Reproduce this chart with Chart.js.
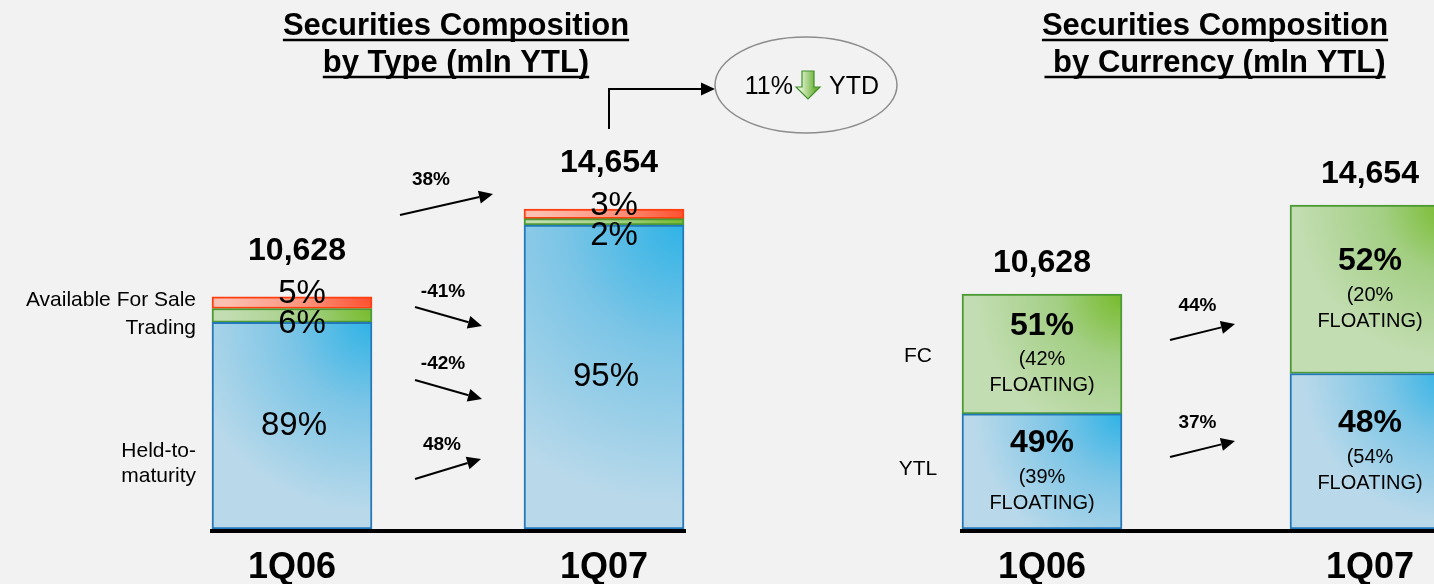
<!DOCTYPE html>
<html>
<head>
<meta charset="utf-8">
<script src="https://cdn.jsdelivr.net/npm/chart.js@4.4.1/dist/chart.umd.min.js"></script>
<style>
html,body{margin:0;padding:0;background:#f2f2f2;overflow:hidden;width:1434px;height:584px}
canvas{position:absolute;top:0}
#typeChart{left:0}
#curChart{left:860px}
</style>
</head>
<body>
<canvas id="typeChart" width="960" height="584"></canvas>
<canvas id="curChart" width="674" height="584"></canvas>
<script>
const periods = ["1Q06", "1Q07"]
const totals = [10628, 14654]

// composition by type, % of total
const heldToMaturity = [89, 95]
const trading = [6, 2]
const availableForSale = [5, 3]
const totalGrowth = "38%"
const htmGrowth = "48%"
const tradingGrowth = "-42%"
const afsGrowth = "-41%"
const ytdChange = "11%"

// composition by currency, % of total, and floating part of each
const ytlShare = [49, 48]
const fcShare = [51, 52]
const ytlFloating = [39, 54]
const fcFloating = [42, 20]
const ytlGrowth = "37%"
const fcGrowth = "44%"

const fam = '"Liberation Sans", Arial, sans-serif'
const BAR = 160

const blue = {light: "#b9d9ea", mid: "#7cc5e6", bright: "#2fb3e6", border: "#2378ba"}
const green = {light: "#c3ddb2", mid: "#a3cf84", bright: "#76bb2a", border: "#4b9a33"}
const red = {light: "#fcc0b2", mid: "#fb917a", bright: "#ff4e2c", border: "#ff3f12"}

function amounts(shares){
return shares.map((s,i)=>totals[i]*s/100)
}

// radial shading, brightest at the top right corner of each segment
function segFill(c,pal){
const chart=c.chart
const xs=chart.scales.x, ys=chart.scales.y
if(c.type!=="data"||!xs||!ys)return pal.light
const i=c.dataIndex
let below=0
for(let d=0;d<c.datasetIndex;d++)below+=chart.data.datasets[d].data[i]
const val=chart.data.datasets[c.datasetIndex].data[i]
const cx=xs.getPixelForValue(i)
const top=ys.getPixelForValue(below+val), bottom=ys.getPixelForValue(below)
if(![cx,top,bottom].every(Number.isFinite))return pal.light
const r=Math.max(BAR,bottom-top)*1.15
const g=chart.ctx.createRadialGradient(cx+BAR/2,top,0,cx+BAR/2,top,r)
g.addColorStop(0,pal.bright)
g.addColorStop(0.35,pal.mid)
g.addColorStop(0.8,pal.light)
g.addColorStop(1,pal.light)
return g
}

function dataset(label,data,pal){
return {
label:label,
data:data,
backgroundColor:c=>segFill(c,pal),
borderColor:pal.border,
borderWidth:2,
borderSkipped:false,
barThickness:BAR
}
}

function text(ctx,str,x,y,font,align){
ctx.save()
ctx.font=font
ctx.fillStyle="#000"
ctx.textAlign=align||"center"
ctx.textBaseline="middle"
ctx.fillText(str,x,y)
ctx.restore()
}

function title(ctx,lines,cx){
ctx.save()
ctx.font="bold 31px "+fam
ctx.fillStyle="#000"
ctx.strokeStyle="#000"
ctx.lineWidth=2.5
ctx.textAlign="center"
ctx.textBaseline="alphabetic"
lines.forEach((s,k)=>{
const base=35+k*37
ctx.fillText(s,cx,base)
const w=ctx.measureText(s).width
ctx.beginPath()
ctx.moveTo(cx-w/2,base+5)
ctx.lineTo(cx+w/2,base+5)
ctx.stroke()
})
ctx.restore()
}

function arrow(ctx,x1,y1,x2,y2){
const a=Math.atan2(y2-y1,x2-x1)
const len=14, half=6.5
ctx.save()
ctx.strokeStyle="#000"
ctx.fillStyle="#000"
ctx.lineWidth=2
ctx.beginPath()
ctx.moveTo(x1,y1)
ctx.lineTo(x2-len*Math.cos(a),y2-len*Math.sin(a))
ctx.stroke()
ctx.beginPath()
ctx.moveTo(x2,y2)
ctx.lineTo(x2-len*Math.cos(a)+half*Math.sin(a),y2-len*Math.sin(a)-half*Math.cos(a))
ctx.lineTo(x2-len*Math.cos(a)-half*Math.sin(a),y2-len*Math.sin(a)+half*Math.cos(a))
ctx.closePath()
ctx.fill()
ctx.restore()
}

function baseline(chart){
const ctx=chart.ctx
const bars=chart.getDatasetMeta(0).data
ctx.save()
ctx.fillStyle="#000"
const x0=bars[0].x-BAR/2-2, x1=bars[bars.length-1].x+BAR/2+2
ctx.fillRect(x0,chart.chartArea.bottom,x1-x0,4)
ctx.restore()
}

function segMid(chart,ds,i){
const el=chart.getDatasetMeta(ds).data[i]
return (el.y+el.base)/2
}

const typeNotes={
id:"typeNotes",
afterDraw(chart,args,opts){
const ctx=chart.ctx
const ys=chart.scales.y
const bars=chart.getDatasetMeta(0).data
baseline(chart)
title(ctx,["Securities Composition","by Type (mln YTL)"],456)
periods.forEach((p,i)=>{
const cx=bars[i].x
const top=ys.getPixelForValue(totals[i])
text(ctx,p,cx,568,"bold 36px "+fam)
text(ctx,totals[i].toLocaleString("en-US"),cx+5,top-46,"bold 32px "+fam)
text(ctx,heldToMaturity[i]+"%",cx+2,segMid(chart,0,i),"33px "+fam)
text(ctx,trading[i]+"%",cx+10,top+27,"33px "+fam)
text(ctx,availableForSale[i]+"%",cx+10,top-3,"33px "+fam)
})
// series names beside the first bar
const left=bars[0].x-BAR/2-16
const top0=ys.getPixelForValue(totals[0])
const f="21px "+fam
text(ctx,"Available For Sale",left,top0+3,f,"right")
text(ctx,"Trading",left,top0+31,f,"right")
const hm=segMid(chart,0,0)
text(ctx,"Held-to-",left,hm+25,f,"right")
text(ctx,"maturity",left,hm+50,f,"right")

opts.growth.forEach(g=>{
text(ctx,g.label,g.tx,g.ty,"bold 19px "+fam)
arrow(ctx,g.from[0],g.from[1],g.to[0],g.to[1])
})

// year-to-date callout
const top1=ys.getPixelForValue(totals[1])
const lx=bars[1].x+5
ctx.save()
ctx.strokeStyle="#000"
ctx.lineWidth=2
ctx.beginPath()
ctx.moveTo(lx,top1-80)
ctx.lineTo(lx,top1-120)
ctx.lineTo(702,top1-120)
ctx.stroke()
ctx.restore()
arrow(ctx,690,top1-120,715,top1-120)
ctx.save()
ctx.fillStyle="#f2f2f2"
ctx.strokeStyle="#8c8c8c"
ctx.lineWidth=1.5
ctx.beginPath()
ctx.ellipse(806,85,91,48,0,0,Math.PI*2)
ctx.fill()
ctx.stroke()
ctx.restore()
text(ctx,ytdChange,793,87,"25px "+fam,"right")
text(ctx,"YTD",829,87,"25px "+fam,"left")
downArrow(ctx,808,71)
}
}

function downArrow(ctx,cx,y){
const g=ctx.createLinearGradient(cx-7,0,cx+7,0)
g.addColorStop(0,"#dff0cc")
g.addColorStop(1,"#6cb33a")
ctx.save()
ctx.fillStyle=g
ctx.strokeStyle="#3f8f2a"
ctx.lineWidth=1.2
ctx.beginPath()
ctx.moveTo(cx-6,y)
ctx.lineTo(cx+6,y)
ctx.lineTo(cx+6,y+16)
ctx.lineTo(cx+12,y+16)
ctx.lineTo(cx,y+28)
ctx.lineTo(cx-12,y+16)
ctx.lineTo(cx-6,y+16)
ctx.closePath()
ctx.fill()
ctx.stroke()
ctx.restore()
}

const currencyNotes={
id:"currencyNotes",
afterDraw(chart,args,opts){
const ctx=chart.ctx
const ys=chart.scales.y
const bars=chart.getDatasetMeta(0).data
baseline(chart)
title(ctx,["Securities Composition"," by Currency (mln YTL)"],355)
const parts=[[ytlShare,ytlFloating],[fcShare,fcFloating]]
periods.forEach((p,i)=>{
const cx=bars[i].x
const top=ys.getPixelForValue(totals[i])
text(ctx,p,cx,568,"bold 36px "+fam)
text(ctx,totals[i].toLocaleString("en-US"),cx,top-31,"bold 32px "+fam)
parts.forEach((pp,d)=>{
const m=segMid(chart,d,i)
text(ctx,pp[0][i]+"%",cx,m-28,"bold 32px "+fam)
text(ctx,"("+pp[1][i]+"%",cx,m+6,"20px "+fam)
text(ctx,"FLOATING)",cx,m+32,"20px "+fam)
})
})
const lx=bars[0].x-BAR/2-44
text(ctx,"FC",lx,segMid(chart,1,0)+2,"21px "+fam)
text(ctx,"YTL",lx,segMid(chart,0,0)-2,"21px "+fam)
opts.growth.forEach(g=>{
text(ctx,g.label,g.tx,g.ty,"bold 19px "+fam)
arrow(ctx,g.from[0],g.from[1],g.to[0],g.to[1])
})
}
}

const common={
responsive:false,
animation:false,
events:[],
devicePixelRatio:1,
scales:{
x:{display:false,stacked:true,offset:true},
y:{display:false,stacked:true,min:0,max:16000}
}
}

new Chart(document.getElementById("typeChart"),{
type:"bar",
data:{
labels:periods,
datasets:[
dataset("Held-to-maturity",amounts(heldToMaturity),blue),
dataset("Trading",amounts(trading),green),
dataset("Available For Sale",amounts(availableForSale),red)
]
},
options:{
...common,
layout:{padding:{left:136,right:200,top:179.6,bottom:55}},
plugins:{
legend:{display:false},
tooltip:{enabled:false},
typeNotes:{growth:[
{label:totalGrowth,tx:431,ty:180,from:[400,215],to:[493,194]},
{label:afsGrowth,tx:443,ty:292,from:[415,307],to:[482,326]},
{label:tradingGrowth,tx:443,ty:364,from:[415,380],to:[482,399]},
{label:htmGrowth,tx:442,ty:445,from:[415,479],to:[481,459]}
]}
}
},
plugins:[typeNotes]
})

new Chart(document.getElementById("curChart"),{
type:"bar",
data:{
labels:periods,
datasets:[
dataset("YTL",amounts(ytlShare),blue),
dataset("FC",amounts(fcShare),green)
]
},
options:{
...common,
layout:{padding:{left:18,right:0,top:175.2,bottom:55}},
plugins:{
legend:{display:false},
tooltip:{enabled:false},
currencyNotes:{growth:[
{label:fcGrowth,tx:337.5,ty:306,from:[310,340],to:[375,324]},
{label:ytlGrowth,tx:337.5,ty:423,from:[310,457],to:[375,441]}
]}
}
},
plugins:[currencyNotes]
})
</script>
</body>
</html>
